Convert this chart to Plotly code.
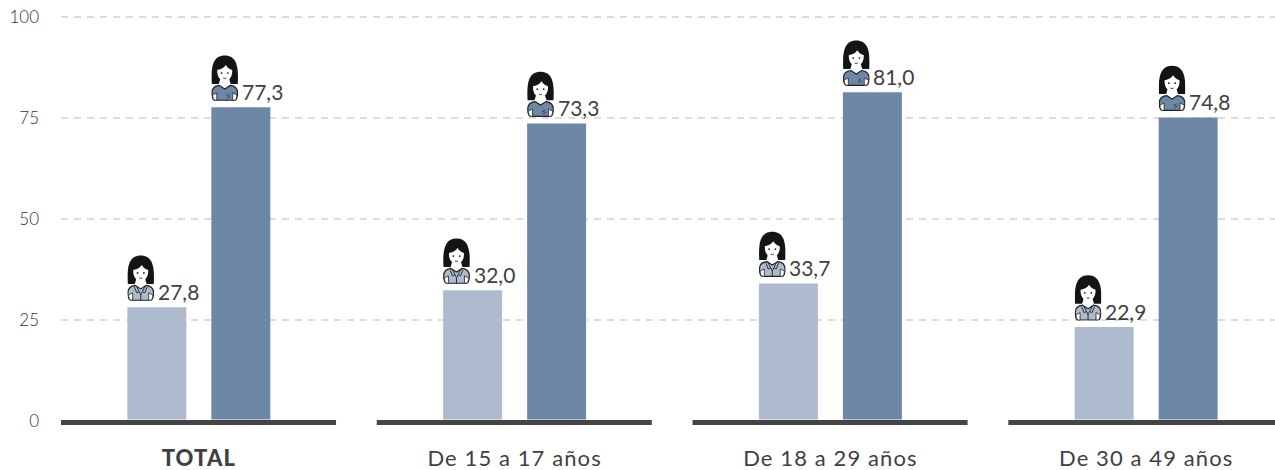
import base64
import plotly.graph_objects as go

categories = ["<b>TOTAL</b>", "De 15 a 17 años", "De 18 a 29 años", "De 30 a 49 años"]
series_a = [27.8, 32.0, 33.7, 22.9]
series_b = [77.3, 73.3, 81.0, 74.8]
y_ticks = [0, 25, 50, 75, 100]

LIGHT = "#AEBACD"
DARK = "#6C88A6"
INK = "#404040"
FONT = "Lato, sans-serif"


def icon(body, suit):
    detail = (
        '<path d="M9 31 L13.5 40 L18 31 M13.5 40 V45.5 M7 32 L9.5 38 L11.5 37 M20 32 L17.5 38 L15.5 37" '
        'stroke="#222" stroke-width="0.9" fill="none"/>'
        if suit else
        '<path d="M15 41 l3 -2.2 M16 43 l3 -2.2" stroke="#333" stroke-width="1" fill="none"/>'
    )
    svg = (
        '<svg xmlns="http://www.w3.org/2000/svg" width="108" height="184" viewBox="0 0 27 46">'
        '<path d="M0.4 29 C-0.5 13 1 0.4 13.5 0.4 C26 0.4 27.5 13 26.6 29 Z" fill="#141414"/>'
        '<path d="M6 15 C10 14.5 13 12.5 14.5 10 C16 12.5 18.5 14.5 21 15 C21.5 21 18.5 26 13.5 26 C8.5 26 5.5 21 6 15 Z" fill="#fff"/>'
        '<path d="M9 24 H18 L20 31 H7 Z" fill="#fff"/>'
        '<circle cx="10.3" cy="18" r="0.9" fill="#222"/><circle cx="16.7" cy="18" r="0.9" fill="#222"/>'
        '<path d="M12 23 Q13.5 24 15 23" stroke="#222" stroke-width="0.9" fill="none"/>'
        f'<path d="M8 30.5 L13.5 34 L19 30.5 C23 31 26.4 33.5 26.4 38 C26.4 42 26 45.4 23 45.4 '
        f'H4 C1 45.4 .6 42 .6 38 C.6 33.5 4 31 8 30.5 Z" fill="{body}" stroke="#222" stroke-width="1.2"/>'
        '<path d="M5.5 38 V45.4 H4 C2 45.4 1.3 42 1.3 40 Z M21.5 38 V45.4 H23 C25 45.4 25.7 42 25.7 40 Z" '
        'fill="#fff" stroke="#222" stroke-width="0.8"/>'
        f'{detail}</svg>'
    )
    return "data:image/svg+xml;base64," + base64.b64encode(svg.encode()).decode()


xs = list(range(len(categories)))
fig = go.Figure()
fig.add_bar(x=xs, y=series_a, marker_color=LIGHT, marker_line_width=0, base=0.35)
fig.add_bar(x=xs, y=series_b, marker_color=DARK, marker_line_width=0, base=0.35)

# baseline segment under each category
seg_x, seg_y = [], []
for i in xs:
    seg_x += [i - 0.4365, i + 0.4345, None]
    seg_y += [-0.37, -0.37, None]
fig.add_scatter(x=seg_x, y=seg_y, mode="lines", line=dict(color="#454545", width=5),
                hoverinfo="skip", cliponaxis=False)

images, annotations = [], []
SLOT = 0.266
BAR = 0.187
for i in xs:
    for off, vals, col, suit in ((-SLOT / 2, series_a, LIGHT, True), (SLOT / 2, series_b, DARK, False)):
        images.append(dict(source=icon(col, suit), xref="x", yref="y",
                           x=i + off - BAR / 2, y=vals[i] + 1.9, sizex=0.085, sizey=11.4,
                           xanchor="left", yanchor="bottom", sizing="contain", layer="above"))
        annotations.append(dict(x=i + off, y=vals[i] + 0.35, text=f"{vals[i]:.1f}".replace(".", ","),
                                xref="x", yref="y", xanchor="left", yanchor="bottom",
                                showarrow=False, xshift=0, yshift=2, borderpad=0,
                                font=dict(family=FONT, size=21, color=INK)))

grid = [dict(type="line", xref="paper", yref="y", x0=0, x1=1, y0=t, y1=t, layer="below",
             line=dict(color="#D2D2D2", width=1.6, dash="7px,6px")) for t in y_ticks[1:]]

fig.update_layout(
    width=1275, height=470, margin=dict(l=61, r=0, t=16, b=45),
    paper_bgcolor="#fff", plot_bgcolor="#fff", showlegend=False,
    barmode="group", bargap=0.468, bargroupgap=0.298,
    images=images, annotations=annotations, shapes=grid,
    font=dict(family=FONT, color=INK),
    xaxis=dict(range=[-0.4365, 3.408], tickmode="array", tickvals=xs, ticktext=categories,
               showgrid=False, zeroline=False, showline=False, ticks="",
               tickfont=dict(family=FONT, size=22, color=INK), ticklabelstandoff=18),
    yaxis=dict(range=[-1, 100.25], tickmode="array", tickvals=y_ticks, showgrid=False,
               zeroline=False, showline=False, ticks="",
               tickfont=dict(family=FONT, size=17, color="#333333", weight=300), ticklabelstandoff=21),
)
css = ("var s=document.createElement('style');"
       "s.textContent='.xtick text{letter-spacing:1.1px}.xtick tspan{font-weight:900 !important}';"
       "document.head.appendChild(s);document.body.style.margin='0';")
fig.write_html("out.html", post_script=css, config={"displayModeBar": False})
